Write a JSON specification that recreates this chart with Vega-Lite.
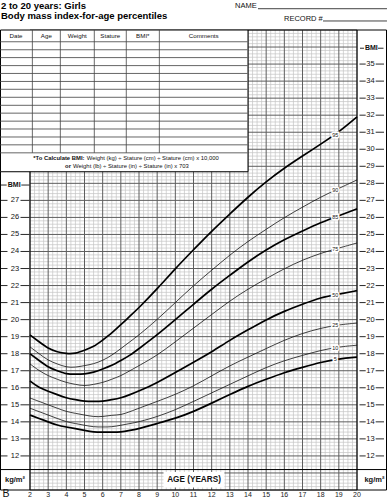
{
  "$schema": "https://vega.github.io/schema/vega-lite/v6.json",
  "width": 327,
  "height": 460,
  "autosize": "none",
  "padding": {"left": 30, "top": 30, "right": 30, "bottom": 10},
  "background": "white",
  "config": {"view": {"stroke": null}, "font": "Liberation Sans", "text": {"font": "Liberation Sans"}},
  "datasets": {
    "vmaj": [{"v":2},{"v":3},{"v":4},{"v":5},{"v":6},{"v":7},{"v":8},{"v":9},{"v":10},{"v":11},{"v":12},{"v":13},{"v":14},{"v":15},{"v":16},{"v":17},{"v":18},{"v":19},{"v":20}],
    "vmin": [{"v":2.25},{"v":2.5},{"v":2.75},{"v":3.25},{"v":3.5},{"v":3.75},{"v":4.25},{"v":4.5},{"v":4.75},{"v":5.25},{"v":5.5},{"v":5.75},{"v":6.25},{"v":6.5},{"v":6.75},{"v":7.25},{"v":7.5},{"v":7.75},{"v":8.25},{"v":8.5},{"v":8.75},{"v":9.25},{"v":9.5},{"v":9.75},{"v":10.25},{"v":10.5},{"v":10.75},{"v":11.25},{"v":11.5},{"v":11.75},{"v":12.25},{"v":12.5},{"v":12.75},{"v":13.25},{"v":13.5},{"v":13.75},{"v":14.25},{"v":14.5},{"v":14.75},{"v":15.25},{"v":15.5},{"v":15.75},{"v":16.25},{"v":16.5},{"v":16.75},{"v":17.25},{"v":17.5},{"v":17.75},{"v":18.25},{"v":18.5},{"v":18.75},{"v":19.25},{"v":19.5},{"v":19.75}],
    "hmaj": [{"v":10},{"v":11},{"v":12},{"v":13},{"v":14},{"v":15},{"v":16},{"v":17},{"v":18},{"v":19},{"v":20},{"v":21},{"v":22},{"v":23},{"v":24},{"v":25},{"v":26},{"v":27},{"v":28},{"v":29},{"v":30},{"v":31},{"v":32},{"v":33},{"v":34},{"v":35},{"v":36},{"v":37}],
    "hmin": [{"v":10.2},{"v":10.4},{"v":10.6},{"v":10.8},{"v":11.2},{"v":11.4},{"v":11.6},{"v":11.8},{"v":12.2},{"v":12.4},{"v":12.6},{"v":12.8},{"v":13.2},{"v":13.4},{"v":13.6},{"v":13.8},{"v":14.2},{"v":14.4},{"v":14.6},{"v":14.8},{"v":15.2},{"v":15.4},{"v":15.6},{"v":15.8},{"v":16.2},{"v":16.4},{"v":16.6},{"v":16.8},{"v":17.2},{"v":17.4},{"v":17.6},{"v":17.8},{"v":18.2},{"v":18.4},{"v":18.6},{"v":18.8},{"v":19.2},{"v":19.4},{"v":19.6},{"v":19.8},{"v":20.2},{"v":20.4},{"v":20.6},{"v":20.8},{"v":21.2},{"v":21.4},{"v":21.6},{"v":21.8},{"v":22.2},{"v":22.4},{"v":22.6},{"v":22.8},{"v":23.2},{"v":23.4},{"v":23.6},{"v":23.8},{"v":24.2},{"v":24.4},{"v":24.6},{"v":24.8},{"v":25.2},{"v":25.4},{"v":25.6},{"v":25.8},{"v":26.2},{"v":26.4},{"v":26.6},{"v":26.8},{"v":27.2},{"v":27.4},{"v":27.6},{"v":27.8},{"v":28.2},{"v":28.4},{"v":28.6},{"v":28.8},{"v":29.2},{"v":29.4},{"v":29.6},{"v":29.8},{"v":30.2},{"v":30.4},{"v":30.6},{"v":30.8},{"v":31.2},{"v":31.4},{"v":31.6},{"v":31.8},{"v":32.2},{"v":32.4},{"v":32.6},{"v":32.8},{"v":33.2},{"v":33.4},{"v":33.6},{"v":33.8},{"v":34.2},{"v":34.4},{"v":34.6},{"v":34.8},{"v":35.2},{"v":35.4},{"v":35.6},{"v":35.8},{"v":36.2},{"v":36.4},{"v":36.6},{"v":36.8}],
    "curves": [
      {"age": 2, "P5": 14.4, "P10": 14.8, "P25": 15.4, "P50": 16.4, "P75": 17.4, "P85": 18.0, "P90": 18.4, "P95": 19.1},
      {"age": 2.5, "P5": 14.2, "P10": 14.6, "P25": 15.2, "P50": 16.0, "P75": 17.0, "P85": 17.6, "P90": 18.0, "P95": 18.7},
      {"age": 3, "P5": 14.0, "P10": 14.4, "P25": 15.0, "P50": 15.8, "P75": 16.7, "P85": 17.2, "P90": 17.6, "P95": 18.3},
      {"age": 3.5, "P5": 13.8, "P10": 14.2, "P25": 14.8, "P50": 15.6, "P75": 16.5, "P85": 17.0, "P90": 17.4, "P95": 18.1},
      {"age": 4, "P5": 13.7, "P10": 14.0, "P25": 14.6, "P50": 15.4, "P75": 16.3, "P85": 16.8, "P90": 17.2, "P95": 18.0},
      {"age": 4.5, "P5": 13.6, "P10": 13.9, "P25": 14.5, "P50": 15.3, "P75": 16.2, "P85": 16.8, "P90": 17.2, "P95": 18.0},
      {"age": 5, "P5": 13.5, "P10": 13.8, "P25": 14.4, "P50": 15.2, "P75": 16.1, "P85": 16.8, "P90": 17.3, "P95": 18.2},
      {"age": 5.5, "P5": 13.4, "P10": 13.7, "P25": 14.3, "P50": 15.2, "P75": 16.2, "P85": 16.9, "P90": 17.4, "P95": 18.4},
      {"age": 6, "P5": 13.4, "P10": 13.7, "P25": 14.3, "P50": 15.2, "P75": 16.3, "P85": 17.1, "P90": 17.6, "P95": 18.8},
      {"age": 6.5, "P5": 13.4, "P10": 13.7, "P25": 14.4, "P50": 15.3, "P75": 16.5, "P85": 17.3, "P90": 17.9, "P95": 19.2},
      {"age": 7, "P5": 13.4, "P10": 13.8, "P25": 14.4, "P50": 15.4, "P75": 16.7, "P85": 17.6, "P90": 18.3, "P95": 19.7},
      {"age": 7.5, "P5": 13.5, "P10": 13.9, "P25": 14.6, "P50": 15.6, "P75": 17.0, "P85": 17.9, "P90": 18.7, "P95": 20.2},
      {"age": 8, "P5": 13.6, "P10": 14.0, "P25": 14.8, "P50": 15.8, "P75": 17.3, "P85": 18.3, "P90": 19.1, "P95": 20.7},
      {"age": 9, "P5": 13.9, "P10": 14.3, "P25": 15.2, "P50": 16.3, "P75": 17.9, "P85": 19.1, "P90": 20.0, "P95": 21.8},
      {"age": 10, "P5": 14.2, "P10": 14.7, "P25": 15.6, "P50": 16.9, "P75": 18.7, "P85": 20.0, "P90": 21.0, "P95": 23.0},
      {"age": 11, "P5": 14.6, "P10": 15.2, "P25": 16.1, "P50": 17.5, "P75": 19.5, "P85": 20.9, "P90": 22.0, "P95": 24.1},
      {"age": 12, "P5": 15.1, "P10": 15.7, "P25": 16.7, "P50": 18.1, "P75": 20.3, "P85": 21.8, "P90": 22.9, "P95": 25.2},
      {"age": 13, "P5": 15.6, "P10": 16.2, "P25": 17.3, "P50": 18.8, "P75": 21.1, "P85": 22.6, "P90": 23.8, "P95": 26.2},
      {"age": 14, "P5": 16.1, "P10": 16.7, "P25": 17.8, "P50": 19.4, "P75": 21.8, "P85": 23.4, "P90": 24.6, "P95": 27.2},
      {"age": 15, "P5": 16.5, "P10": 17.2, "P25": 18.3, "P50": 20.0, "P75": 22.4, "P85": 24.1, "P90": 25.3, "P95": 28.1},
      {"age": 16, "P5": 16.9, "P10": 17.6, "P25": 18.8, "P50": 20.5, "P75": 23.0, "P85": 24.7, "P90": 26.0, "P95": 28.9},
      {"age": 17, "P5": 17.2, "P10": 17.9, "P25": 19.2, "P50": 20.9, "P75": 23.5, "P85": 25.2, "P90": 26.6, "P95": 29.6},
      {"age": 18, "P5": 17.5, "P10": 18.2, "P25": 19.5, "P50": 21.3, "P75": 23.9, "P85": 25.7, "P90": 27.2, "P95": 30.3},
      {"age": 19, "P5": 17.7, "P10": 18.4, "P25": 19.7, "P50": 21.5, "P75": 24.2, "P85": 26.1, "P90": 27.7, "P95": 31.0},
      {"age": 20, "P5": 17.8, "P10": 18.5, "P25": 19.8, "P50": 21.7, "P75": 24.5, "P85": 26.5, "P90": 28.2, "P95": 31.9}
    ],
    "plabels": [
      {"lab": "95", "age": 18.8, "bmi": 30.86},
      {"lab": "90", "age": 18.8, "bmi": 27.6},
      {"lab": "85", "age": 18.8, "bmi": 26.02},
      {"lab": "75", "age": 18.8, "bmi": 24.14},
      {"lab": "50", "age": 18.8, "bmi": 21.46},
      {"lab": "25", "age": 18.8, "bmi": 19.66},
      {"lab": "10", "age": 18.8, "bmi": 18.36},
      {"lab": "5", "age": 18.8, "bmi": 17.66}
    ],
    "trow": [
      {"bmi": 36.31}, {"bmi": 35.84}, {"bmi": 35.38}, {"bmi": 34.91}, {"bmi": 34.45},
      {"bmi": 33.98}, {"bmi": 33.52}, {"bmi": 33.05}, {"bmi": 32.58}, {"bmi": 32.12},
      {"bmi": 31.65}, {"bmi": 31.19}, {"bmi": 30.72}, {"bmi": 30.26}, {"bmi": 29.79}
    ],
    "tcol": [{"age": 2.13}, {"age": 3.67}, {"age": 5.54}, {"age": 7.3}, {"age": 9.12}],
    "thead": [
      {"lab": "Date", "age": 1.23},
      {"lab": "Age", "age": 2.9},
      {"lab": "Weight", "age": 4.6},
      {"lab": "Stature", "age": 6.42},
      {"lab": "BMI*", "age": 8.21},
      {"lab": "Comments", "age": 11.56}
    ],
    "lnum": [
      {"bmi": 12}, {"bmi": 13}, {"bmi": 14}, {"bmi": 15}, {"bmi": 16}, {"bmi": 17}, {"bmi": 18}, {"bmi": 19},
      {"bmi": 20}, {"bmi": 21}, {"bmi": 22}, {"bmi": 23}, {"bmi": 24}, {"bmi": 25}, {"bmi": 26}, {"bmi": 27}
    ],
    "rnum": [
      {"bmi": 12}, {"bmi": 13}, {"bmi": 14}, {"bmi": 15}, {"bmi": 16}, {"bmi": 17}, {"bmi": 18}, {"bmi": 19},
      {"bmi": 20}, {"bmi": 21}, {"bmi": 22}, {"bmi": 23}, {"bmi": 24}, {"bmi": 25}, {"bmi": 26}, {"bmi": 27},
      {"bmi": 28}, {"bmi": 29}, {"bmi": 30}, {"bmi": 31}, {"bmi": 32}, {"bmi": 33}, {"bmi": 34}, {"bmi": 35}
    ],
    "ages": [
      {"age": 2}, {"age": 3}, {"age": 4}, {"age": 5}, {"age": 6}, {"age": 7}, {"age": 8}, {"age": 9}, {"age": 10},
      {"age": 11}, {"age": 12}, {"age": 13}, {"age": 14}, {"age": 15}, {"age": 16}, {"age": 17}, {"age": 18}, {"age": 19}, {"age": 20}
    ]
  },
  "layer": [
    {
      "data": {"name": "vmin"},
      "mark": {"type": "rule", "color": "#c4c4c4", "strokeWidth": 0.7},
      "encoding": {
        "x": {"field": "v", "type": "quantitative", "scale": {"domain": [2, 20], "nice": false, "zero": false}, "axis": null},
        "y": {"datum": 10, "type": "quantitative", "scale": {"domain": [10, 37], "nice": false, "zero": false}, "axis": null},
        "y2": {"datum": 37}
      }
    },
    {
      "data": {"name": "hmin"},
      "mark": {"type": "rule", "color": "#c4c4c4", "strokeWidth": 0.7},
      "encoding": {
        "x": {"datum": 2, "type": "quantitative", "axis": null},
        "x2": {"datum": 20},
        "y": {"field": "v", "type": "quantitative", "axis": null}
      }
    },
    {
      "data": {"name": "vmaj"},
      "mark": {"type": "rule", "color": "#5e5e5e", "strokeWidth": 1},
      "encoding": {
        "x": {"field": "v", "type": "quantitative", "axis": null},
        "y": {"datum": 10, "type": "quantitative", "axis": null},
        "y2": {"datum": 37}
      }
    },
    {
      "data": {"name": "hmaj"},
      "mark": {"type": "rule", "color": "#5e5e5e", "strokeWidth": 1},
      "encoding": {
        "x": {"datum": 2, "type": "quantitative", "axis": null},
        "x2": {"datum": 20},
        "y": {"field": "v", "type": "quantitative", "axis": null}
      }
    },
    {
      "data": {"name": "curves"},
      "transform": [{"fold": ["P5", "P50", "P85", "P95"], "as": ["pct", "bmi"]}],
      "mark": {"type": "line", "interpolate": "basis", "color": "#000", "strokeWidth": 1.7},
      "encoding": {
        "x": {"field": "age", "type": "quantitative", "axis": null},
        "y": {"field": "bmi", "type": "quantitative", "axis": null},
        "detail": {"field": "pct", "type": "nominal"}
      }
    },
    {
      "data": {"name": "curves"},
      "transform": [{"fold": ["P10", "P25", "P75", "P90"], "as": ["pct", "bmi"]}],
      "mark": {"type": "line", "interpolate": "basis", "color": "#111", "strokeWidth": 0.8},
      "encoding": {
        "x": {"field": "age", "type": "quantitative", "axis": null},
        "y": {"field": "bmi", "type": "quantitative", "axis": null},
        "detail": {"field": "pct", "type": "nominal"}
      }
    },
    {
      "data": {"name": "plabels"},
      "mark": {"type": "text", "fontSize": 5.5, "color": "white", "stroke": "white", "strokeWidth": 3, "baseline": "middle"},
      "encoding": {
        "x": {"field": "age", "type": "quantitative", "axis": null},
        "y": {"field": "bmi", "type": "quantitative", "axis": null},
        "text": {"field": "lab"}
      }
    },
    {
      "data": {"name": "plabels"},
      "mark": {"type": "text", "fontSize": 5.5, "color": "#222", "baseline": "middle"},
      "encoding": {
        "x": {"field": "age", "type": "quantitative", "axis": null},
        "y": {"field": "bmi", "type": "quantitative", "axis": null},
        "text": {"field": "lab"}
      }
    },
    {
      "data": {"values": [{}]},
      "mark": {"type": "rect", "fill": "white", "stroke": "#000", "strokeWidth": 1},
      "encoding": {
        "x": {"datum": 0.376, "type": "quantitative", "axis": null},
        "x2": {"datum": 14.0},
        "y": {"datum": 37, "type": "quantitative", "axis": null},
        "y2": {"datum": 28.68}
      }
    },
    {
      "data": {"name": "trow"},
      "mark": {"type": "rule", "color": "#666", "strokeWidth": 1},
      "encoding": {
        "x": {"datum": 0.376, "type": "quantitative", "axis": null},
        "x2": {"datum": 14.0},
        "y": {"field": "bmi", "type": "quantitative", "axis": null}
      }
    },
    {
      "data": {"name": "tcol"},
      "mark": {"type": "rule", "color": "#444", "strokeWidth": 0.8},
      "encoding": {
        "x": {"field": "age", "type": "quantitative", "axis": null},
        "y": {"datum": 37, "type": "quantitative", "axis": null},
        "y2": {"datum": 29.79}
      }
    },
    {
      "data": {"name": "thead"},
      "mark": {"type": "text", "fontSize": 6.2, "color": "#111", "baseline": "middle"},
      "encoding": {
        "x": {"field": "age", "type": "quantitative", "axis": null},
        "y": {"datum": 36.63, "type": "quantitative", "axis": null},
        "text": {"field": "lab"}
      }
    },
    {
      "data": {"values": [
        {"t": "*To Calculate BMI:", "age": 2.18, "bmi": 29.49},
        {"t": "or", "age": 3.93, "bmi": 29.0}
      ]},
      "mark": {"type": "text", "fontSize": 5.9, "fontWeight": "bold", "color": "#111", "align": "left", "baseline": "middle"},
      "encoding": {
        "x": {"field": "age", "type": "quantitative", "axis": null},
        "y": {"field": "bmi", "type": "quantitative", "axis": null},
        "text": {"field": "t"}
      }
    },
    {
      "data": {"values": [
        {"t": "Weight (kg) ÷ Stature (cm) ÷ Stature (cm) x 10,000", "age": 5.12, "bmi": 29.49},
        {"t": "Weight (lb) ÷ Stature (in) ÷ Stature (in) x 703", "age": 4.37, "bmi": 29.0}
      ]},
      "mark": {"type": "text", "fontSize": 5.9, "color": "#111", "align": "left", "baseline": "middle"},
      "encoding": {
        "x": {"field": "age", "type": "quantitative", "axis": null},
        "y": {"field": "bmi", "type": "quantitative", "axis": null},
        "text": {"field": "t"}
      }
    },
    {
      "data": {"values": [
        {"age": 2, "b0": 10, "b1": 28.68},
        {"age": 20, "b0": 10, "b1": 37},
        {"age": 0.376, "b0": 10, "b1": 28.68},
        {"age": 21.624, "b0": 10, "b1": 37}
      ]},
      "mark": {"type": "rule", "color": "#000", "strokeWidth": 1},
      "encoding": {
        "x": {"field": "age", "type": "quantitative", "axis": null},
        "y": {"field": "b0", "type": "quantitative", "axis": null},
        "y2": {"field": "b1"}
      }
    },
    {
      "data": {"values": [
        {"bmi": 37, "a0": 14, "a1": 21.624},
        {"bmi": 11.2, "a0": 0.376, "a1": 21.624},
        {"bmi": 10, "a0": 0.376, "a1": 21.624}
      ]},
      "mark": {"type": "rule", "color": "#000", "strokeWidth": 1},
      "encoding": {
        "x": {"field": "a0", "type": "quantitative", "axis": null},
        "x2": {"field": "a1"},
        "y": {"field": "bmi", "type": "quantitative", "axis": null}
      }
    },
    {
      "data": {"name": "lnum"},
      "mark": {"type": "text", "fontSize": 7.5, "color": "#111", "baseline": "middle"},
      "encoding": {
        "x": {"datum": 1.174, "type": "quantitative", "axis": null},
        "y": {"field": "bmi", "type": "quantitative", "axis": null},
        "text": {"field": "bmi", "type": "quantitative"}
      }
    },
    {
      "data": {"name": "lnum"},
      "mark": {"type": "rule", "color": "#111", "strokeWidth": 0.9},
      "encoding": {
        "x": {"datum": 0.404, "type": "quantitative", "axis": null},
        "x2": {"datum": 0.761},
        "y": {"field": "bmi", "type": "quantitative", "axis": null}
      }
    },
    {
      "data": {"name": "lnum"},
      "mark": {"type": "rule", "color": "#111", "strokeWidth": 0.9},
      "encoding": {
        "x": {"datum": 1.477, "type": "quantitative", "axis": null},
        "x2": {"datum": 1.972},
        "y": {"field": "bmi", "type": "quantitative", "axis": null}
      }
    },
    {
      "data": {"name": "rnum"},
      "mark": {"type": "text", "fontSize": 7.5, "color": "#111", "baseline": "middle"},
      "encoding": {
        "x": {"datum": 20.743, "type": "quantitative", "axis": null},
        "y": {"field": "bmi", "type": "quantitative", "axis": null},
        "text": {"field": "bmi", "type": "quantitative"}
      }
    },
    {
      "data": {"name": "rnum"},
      "mark": {"type": "rule", "color": "#111", "strokeWidth": 0.9},
      "encoding": {
        "x": {"datum": 20.137, "type": "quantitative", "axis": null},
        "x2": {"datum": 20.478},
        "y": {"field": "bmi", "type": "quantitative", "axis": null}
      }
    },
    {
      "data": {"name": "rnum"},
      "mark": {"type": "rule", "color": "#111", "strokeWidth": 0.9},
      "encoding": {
        "x": {"datum": 21.028, "type": "quantitative", "axis": null},
        "x2": {"datum": 21.486},
        "y": {"field": "bmi", "type": "quantitative", "axis": null}
      }
    },
    {
      "data": {"values": [
        {"t": "BMI", "age": 1.13, "bmi": 27.9},
        {"t": "BMI", "age": 20.787, "bmi": 35.93}
      ]},
      "mark": {"type": "text", "fontSize": 7, "fontWeight": "bold", "color": "#111", "baseline": "middle"},
      "encoding": {
        "x": {"field": "age", "type": "quantitative", "axis": null},
        "y": {"field": "bmi", "type": "quantitative", "axis": null},
        "text": {"field": "t"}
      }
    },
    {
      "data": {"values": [
        {"bmi": 27.9, "a0": 0.404, "a1": 0.717},
        {"bmi": 27.9, "a0": 1.521, "a1": 1.972},
        {"bmi": 35.93, "a0": 20.165, "a1": 20.385},
        {"bmi": 35.93, "a0": 21.156, "a1": 21.459}
      ]},
      "mark": {"type": "rule", "color": "#111", "strokeWidth": 0.9},
      "encoding": {
        "x": {"field": "a0", "type": "quantitative", "axis": null},
        "x2": {"field": "a1"},
        "y": {"field": "bmi", "type": "quantitative", "axis": null}
      }
    },
    {
      "data": {"values": [
        {"t": "kg/m²", "age": 1.174, "bmi": 10.59},
        {"t": "kg/m²", "age": 20.96, "bmi": 10.59}
      ]},
      "mark": {"type": "text", "fontSize": 7.5, "fontWeight": "bold", "color": "#111", "baseline": "middle"},
      "encoding": {
        "x": {"field": "age", "type": "quantitative", "axis": null},
        "y": {"field": "bmi", "type": "quantitative", "axis": null},
        "text": {"field": "t"}
      }
    },
    {
      "data": {"values": [{}]},
      "mark": {"type": "rect", "fill": "white"},
      "encoding": {
        "x": {"datum": 9.35, "type": "quantitative", "axis": null},
        "x2": {"datum": 12.7},
        "y": {"datum": 10.15, "type": "quantitative", "axis": null},
        "y2": {"datum": 11.05}
      }
    },
    {
      "data": {"values": [{"t": "AGE (YEARS)", "age": 11.03, "bmi": 10.59}]},
      "mark": {"type": "text", "fontSize": 8.2, "fontWeight": "bold", "color": "#111", "baseline": "middle"},
      "encoding": {
        "x": {"field": "age", "type": "quantitative", "axis": null},
        "y": {"field": "bmi", "type": "quantitative", "axis": null},
        "text": {"field": "t"}
      }
    },
    {
      "data": {"name": "ages"},
      "mark": {"type": "text", "fontSize": 7, "color": "#222", "baseline": "alphabetic"},
      "encoding": {
        "x": {"field": "age", "type": "quantitative", "axis": null},
        "y": {"datum": 9.57, "type": "quantitative", "axis": null},
        "text": {"field": "age", "type": "quantitative"}
      }
    },
    {
      "data": {"values": [{"t": "B", "age": 0.49, "bmi": 9.61}]},
      "mark": {"type": "text", "fontSize": 10.5, "color": "#111", "align": "left", "baseline": "alphabetic"},
      "encoding": {
        "x": {"field": "age", "type": "quantitative", "axis": null},
        "y": {"field": "bmi", "type": "quantitative", "axis": null},
        "text": {"field": "t"}
      }
    },
    {
      "data": {"values": [
        {"t": "2 to 20 years: Girls", "age": 0.404, "bmi": 38.26},
        {"t": "Body mass index-for-age percentiles", "age": 0.404, "bmi": 37.62}
      ]},
      "mark": {"type": "text", "fontSize": 9.5, "fontWeight": "bold", "color": "#000", "align": "left", "baseline": "alphabetic"},
      "encoding": {
        "x": {"field": "age", "type": "quantitative", "axis": null},
        "y": {"field": "bmi", "type": "quantitative", "axis": null},
        "text": {"field": "t"}
      }
    },
    {
      "data": {"values": [
        {"t": "NAME", "age": 13.284, "bmi": 38.27},
        {"t": "RECORD #", "age": 15.98, "bmi": 37.55}
      ]},
      "mark": {"type": "text", "fontSize": 7.5, "color": "#111", "align": "left", "baseline": "alphabetic"},
      "encoding": {
        "x": {"field": "age", "type": "quantitative", "axis": null},
        "y": {"field": "bmi", "type": "quantitative", "axis": null},
        "text": {"field": "t"}
      }
    },
    {
      "data": {"values": [
        {"bmi": 38.25, "a0": 14.55, "a1": 21.65},
        {"bmi": 37.53, "a0": 18.13, "a1": 21.65}
      ]},
      "mark": {"type": "rule", "color": "#111", "strokeWidth": 0.8},
      "encoding": {
        "x": {"field": "a0", "type": "quantitative", "axis": null},
        "x2": {"field": "a1"},
        "y": {"field": "bmi", "type": "quantitative", "axis": null}
      }
    }
  ]
}
